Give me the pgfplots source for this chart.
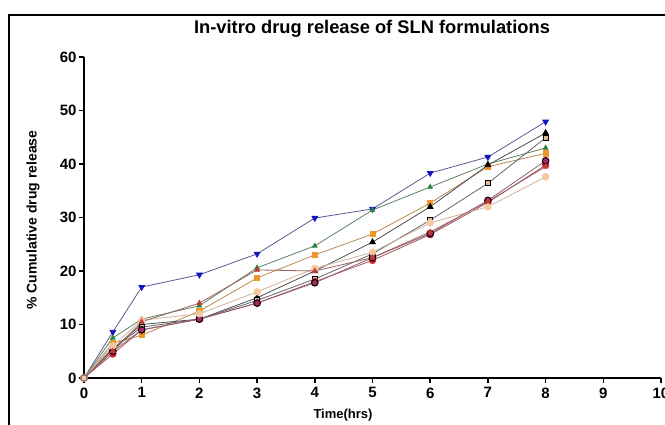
\documentclass[border=0pt]{standalone}
\usepackage{pgfplots}
\pgfplotsset{compat=1.18}
\usepackage{fontspec}
\setmainfont{Liberation Sans}

\definecolor{navy}{RGB}{20,20,190}
\definecolor{leaf}{RGB}{40,130,60}
\definecolor{amber}{RGB}{240,150,40}
\definecolor{crimson}{RGB}{215,30,50}
\definecolor{plum}{RGB}{170,40,100}
\definecolor{peach}{RGB}{245,200,160}
\definecolor{tan}{RGB}{215,190,150}
\definecolor{rust}{RGB}{190,60,50}

\begin{document}
\begin{tikzpicture}[x=1pt,y=1pt]
\path[use as bounding box] (0,0) rectangle (665,424);
% outer frame
\draw[line width=2pt] (9,-5) -- (9,409) -- (670,409);

\begin{axis}[
  at={(84pt,46pt)}, anchor=south west,
  scale only axis, width=577pt, height=321pt,
  xmin=0, xmax=10, ymin=0, ymax=60,
  axis x line*=bottom, axis y line*=left,
  axis line style={line width=2pt, black},
  xtick={0,...,10}, ytick={0,10,...,60},
  tick align=outside, major tick length=5pt,
  tick style={line width=1.6pt, black},
  every tick label/.append style={font=\bfseries\fontsize{15}{17}\selectfont},
  xticklabel style={yshift=-1pt},
  yticklabel style={xshift=1pt},
  /pgf/number format/assume math mode=true,
  clip=false,
  every axis plot/.append style={line width=0.8pt, mark size=3.3pt},
]
% F-A
\addplot[navy!35!gray, mark=triangle*, mark options={fill=navy, draw=navy, rotate=180}]
  coordinates {(0,0) (0.5,8.6) (1,17.0) (2,19.3) (3,23.2) (4,29.9) (5,31.6) (6,38.3) (7,41.3) (8,47.9)};
% F-B
\addplot[leaf!40!gray, mark=triangle*, mark size=2.6pt, mark options={fill=leaf, draw=leaf}]
  coordinates {(0,0) (0.5,7.5) (1,11.0) (2,13.5) (3,20.6) (4,24.7) (5,31.4) (6,35.7) (7,40.0) (8,43.0)};
% F-C
\addplot[amber!50!gray, mark=square*, mark size=2.6pt, mark options={fill=amber, draw=amber}]
  coordinates {(0,0) (0.5,6.5) (1,8.0) (2,12.5) (3,18.7) (4,23.0) (5,26.9) (6,32.7) (7,39.5) (8,42.0)};
% F-D
\addplot[black!70, mark=triangle*, mark options={fill=black, draw=black}]
  coordinates {(0,0) (0.5,5.5) (1,10.0) (2,11.0) (3,15.0) (4,20.0) (5,25.4) (6,32.0) (7,39.8) (8,45.8)};
% F-E
\addplot[black!60, mark=square*, mark size=2.6pt, mark options={fill=tan, draw=black, line width=1pt}]
  coordinates {(0,0) (0.5,5.5) (1,9.5) (2,11.0) (3,14.5) (4,18.5) (5,23.2) (6,29.5) (7,36.4) (8,44.9)};
% F-F
\addplot[crimson!40!gray, mark=*, mark options={fill=crimson, draw=crimson}]
  coordinates {(0,0) (0.5,4.5) (1,9.0) (2,11.0) (3,14.0) (4,18.0) (5,22.0) (6,26.8) (7,32.8) (8,39.8)};
% F-G
\addplot[plum!40!gray, mark=*, mark options={fill=plum, draw=black, line width=1pt}]
  coordinates {(0,0) (0.5,5.0) (1,9.0) (2,11.0) (3,14.0) (4,17.8) (5,22.5) (6,27.0) (7,33.2) (8,40.6)};
% F-H
\addplot[peach!70!gray, mark=*, mark options={fill=peach, draw=peach}]
  coordinates {(0,0) (0.5,6.0) (1,10.8) (2,12.0) (3,16.1) (4,20.5) (5,23.5) (6,29.0) (7,32.0) (8,37.6)};
% F-I
\addplot[rust!45!gray, mark=triangle*, mark size=2.8pt, mark options={fill=rust, draw=rust}]
  coordinates {(0,0) (0.5,5.0) (1,10.5) (2,14.0) (3,20.2) (4,20.0) (5,22.5) (6,27.3) (7,33.0) (8,39.5)};
% origin marker
\addplot[only marks, mark=square*, mark size=2.6pt, mark options={fill=peach, draw=peach!60!black}]
  coordinates {(0,0)};
\end{axis}

% title and axis titles
\node[font=\bfseries\fontsize{18.3}{21}\selectfont, anchor=base] at (372,390) {In-vitro drug release of SLN formulations};
\node[font=\bfseries\fontsize{14}{16}\selectfont, rotate=90] at (33,204) {\% Cumulative drug release};
\node[font=\bfseries\fontsize{13}{15}\selectfont, anchor=base] at (343,6) {Time(hrs)};
\end{tikzpicture}
\end{document}
